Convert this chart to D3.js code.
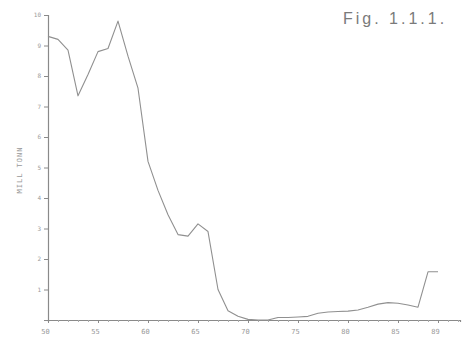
<!DOCTYPE html>
<html>
<head>
<meta charset="utf-8">
<script src="https://cdn.jsdelivr.net/npm/d3@7"></script>
<style>
  html, body { margin: 0; padding: 0; background: #fff; }
  svg { display: block; }
</style>
</head>
<body>
<svg id="chart" width="468" height="339"></svg>
<script>
// ---- data ----
const years = [1950,1951,1952,1953,1954,1955,1956,1957,1958,1959,1960,1961,1962,1963,1964,1965,1966,1967,1968,1969,1970,1971,1972,1973,1974,1975,1976,1977,1978,1979,1980,1981,1982,1983,1984,1985,1986,1987,1988,1989];
const values = [9.3,9.2,8.85,7.35,8.05,8.8,8.9,9.8,8.65,7.6,5.2,4.25,3.45,2.8,2.75,3.15,2.9,1.0,0.3,0.12,0.02,0.0,0.0,0.08,0.08,0.1,0.12,0.22,0.26,0.28,0.29,0.33,0.42,0.52,0.57,0.55,0.49,0.42,1.58,1.58];
const yTicks = [1,2,3,4,5,6,7,8,9,10];
const yTickLabels = ["1","2","3","4","5","6","7","8","9","10"];
const xTicks = [1950,1955,1960,1965,1970,1975,1980,1985,1989];
const xTickLabels = ["50","55","60","65","70","75","80","85","89"];
const yTitle = "MILL TONN";
const figTitle = "Fig. 1.1.1.";

// ---- layout ----
const svg = d3.select("#chart");
const x = d3.scaleLinear().domain([1950, 1991.2]).range([48, 460]);
const y = d3.scaleLinear().domain([0, 10]).range([320, 15]);
const ink = "#8a8a8a";

// y axis
const yAxis = d3.axisLeft(y).tickValues(yTicks).tickFormat((d,i) => yTickLabels[i]).tickSize(4).tickPadding(3);
const gy = svg.append("g").attr("transform", `translate(${x(1950)},0)`).call(yAxis);
gy.select(".domain").attr("stroke", ink).attr("stroke-width", 1.2);
gy.selectAll(".tick line").attr("stroke", ink);
gy.selectAll(".tick text").attr("fill", "#999").attr("font-family", "DejaVu Sans Mono, monospace").attr("font-size", 6);

// x axis: yearly minor ticks
const minor = d3.range(1950, 1992);
const gxm = svg.append("g").attr("transform", `translate(0,${y(0)})`)
  .call(d3.axisBottom(x).tickValues(minor).tickFormat("").tickSize(2));
gxm.select(".domain").attr("stroke", ink).attr("stroke-width", 1.2);
gxm.selectAll(".tick line").attr("stroke", "#aaa");

const gx = svg.append("g").attr("transform", `translate(0,${y(0)})`)
  .call(d3.axisBottom(x).tickValues(xTicks).tickFormat((d,i) => xTickLabels[i]).tickSize(3).tickPadding(6));
gx.select(".domain").remove();
gx.selectAll(".tick line").attr("stroke", ink);
gx.selectAll(".tick text").attr("fill", "#999").attr("font-family", "DejaVu Sans Mono, monospace").attr("font-size", 7).attr("dx", -3);

// line
const line = d3.line().x((d,i) => x(years[i])).y(d => y(d));
svg.append("path").datum(values)
  .attr("d", line)
  .attr("fill", "none")
  .attr("stroke", "#909090")
  .attr("stroke-width", 1.1)
  .attr("stroke-linejoin", "round");

// y title
svg.append("text")
  .attr("transform", "translate(22,170) rotate(-90)")
  .attr("text-anchor", "middle")
  .attr("fill", "#999")
  .attr("font-family", "DejaVu Sans Mono, monospace")
  .attr("font-size", 7)
  .attr("letter-spacing", 1)
  .text(yTitle);

// figure label
svg.append("text")
  .attr("x", 343).attr("y", 24)
  .attr("fill", "#7a7a7a")
  .attr("font-family", "Liberation Sans, Arial, sans-serif")
  .attr("font-size", 16)
  .attr("letter-spacing", 3)
  .text(figTitle);
</script>
</body>
</html>
